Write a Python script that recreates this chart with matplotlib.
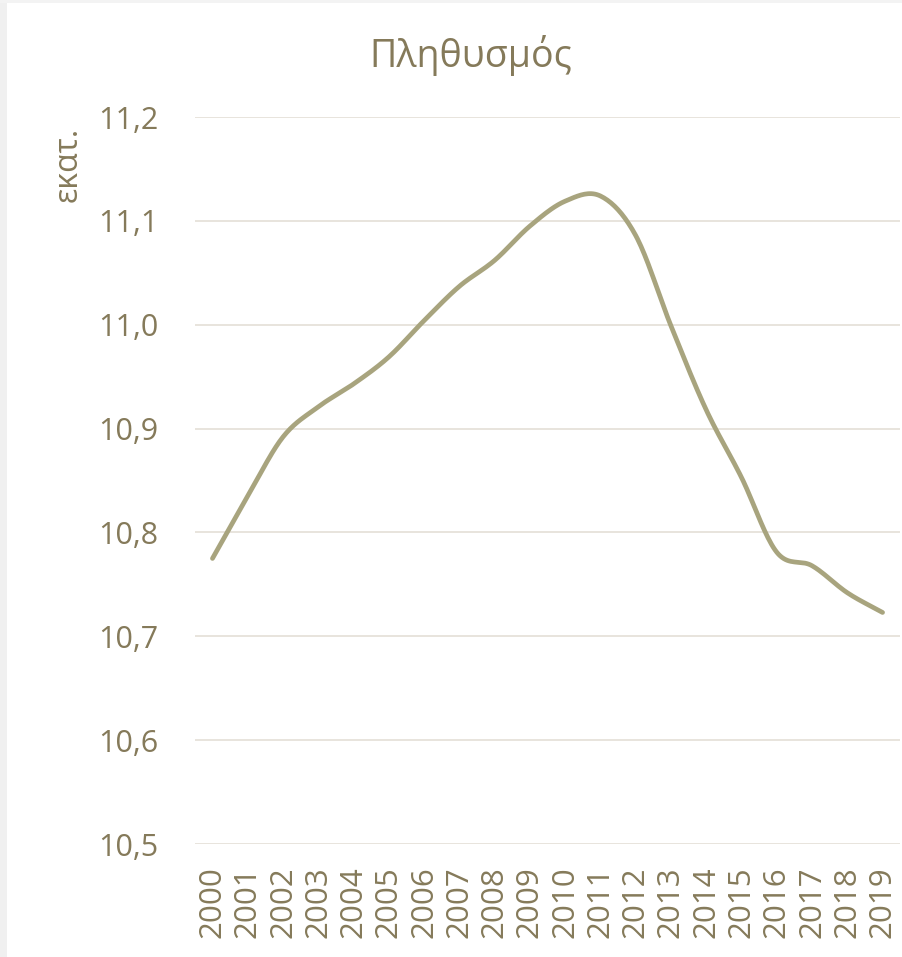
import numpy as np
import matplotlib.pyplot as plt
from matplotlib.patches import Rectangle
from matplotlib.ticker import FuncFormatter

# Πληθυσμός (εκατ.)
years = [str(y) for y in range(2000, 2020)]
population = [10.775, 10.835, 10.892, 10.921, 10.943, 10.969, 11.004, 11.037,
              11.062, 11.095, 11.119, 11.124, 11.086, 10.999, 10.918, 10.853,
              10.781, 10.768, 10.742, 10.723]

y_ticks = [10.5, 10.6, 10.7, 10.8, 10.9, 11.0, 11.1, 11.2]

text_color = '#857A5A'
line_color = '#A8A47E'
grid_color = '#E6E2DA'


def smooth(xs, ys, n=20):
    # catmull-rom, like the excel "smoothed line"
    xs = np.asarray(xs, float)
    ys = np.asarray(ys, float)
    px = np.concatenate([[2 * xs[0] - xs[1]], xs, [2 * xs[-1] - xs[-2]]])
    py = np.concatenate([[2 * ys[0] - ys[1]], ys, [2 * ys[-1] - ys[-2]]])
    ox, oy = [], []
    t = np.linspace(0, 1, n, endpoint=False)
    for i in range(1, len(px) - 2):
        for p, o in ((px, ox), (py, oy)):
            p0, p1, p2, p3 = p[i - 1], p[i], p[i + 1], p[i + 2]
            o.extend(0.5 * (2 * p1 + (-p0 + p2) * t
                            + (2 * p0 - 5 * p1 + 4 * p2 - p3) * t ** 2
                            + (-p0 + 3 * p1 - 3 * p2 + p3) * t ** 3))
    ox.append(xs[-1])
    oy.append(ys[-1])
    return np.array(ox), np.array(oy)


plt.rcParams['font.family'] = ['Open Sans', 'DejaVu Sans']

fig = plt.figure(figsize=(9.02, 9.57), dpi=100)
fig.patch.set_facecolor('white')

# light grey frame of the screenshot (left + top)
fig.patches.append(Rectangle((0, 0), 7 / 902, 1, transform=fig.transFigure,
                             facecolor='#F0F0F0', edgecolor='none', zorder=0))
fig.patches.append(Rectangle((0, 1 - 3 / 957), 1, 3 / 957, transform=fig.transFigure,
                             facecolor='#F3F3F3', edgecolor='none', zorder=0))

ax = fig.add_axes([0.216, 0.118, 0.782, 0.7597])
ax.patch.set_alpha(0)

x = np.arange(len(years))
sx, sy = smooth(x, population)
ax.plot(sx, sy, color=line_color, lw=3.4, solid_capstyle='round', zorder=3)

ax.set_xlim(-0.5, len(years) - 0.5)
ax.set_ylim(10.5, 11.2)
ax.set_yticks(y_ticks)
ax.yaxis.set_major_formatter(FuncFormatter(lambda v, p: f'{v:.1f}'.replace('.', ',')))
ax.set_xticks(x)
ax.set_xticklabels(years, rotation=90)

ax.grid(axis='y', color=grid_color, lw=1.3)
ax.set_axisbelow(True)
for s in ax.spines.values():
    s.set_visible(False)
ax.tick_params(axis='y', length=0, pad=26, labelsize=22, labelcolor=text_color)
ax.tick_params(axis='x', length=0, pad=16, labelsize=22.5, labelcolor=text_color)

fig.text(0.522, 1 - 55 / 957, 'Πληθυσμός', ha='center', va='center',
         fontsize=27, color=text_color)
fig.text(68 / 902, 1 - 164 / 957, 'εκατ.', ha='center', va='center',
         rotation=90, fontsize=23, color=text_color)

fig.savefig('out.png', dpi=100, facecolor='white')
